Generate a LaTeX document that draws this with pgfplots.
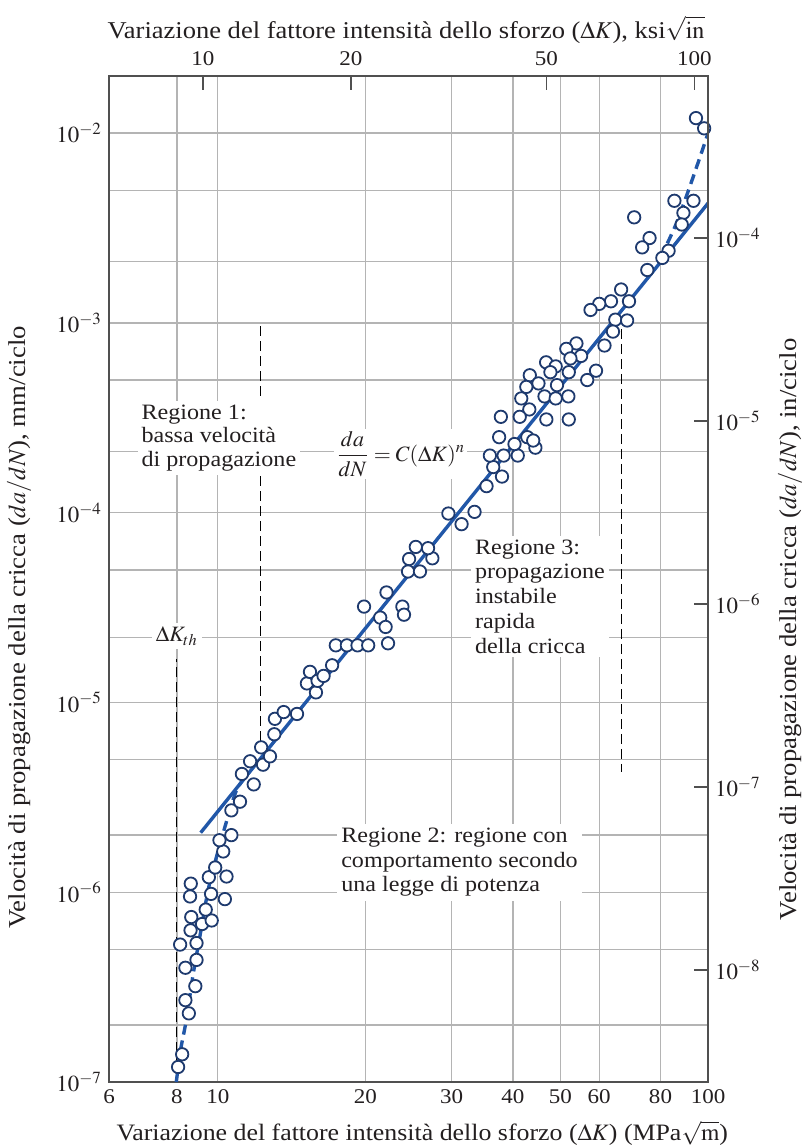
\documentclass[border=0pt]{standalone}
\usepackage{mathptmx}
\usepackage{fontspec}
\setmainfont{Liberation Serif}[FakeStretch=1.1]
\usepackage{pgfplots}
\pgfplotsset{compat=1.18}
\usepackage{pgfplotstable}

\definecolor{gridgray}{HTML}{B4B4B4}
\definecolor{axgray}{HTML}{505050}
\definecolor{linblue}{HTML}{2157A8}
\definecolor{mkblue}{HTML}{1E3A6E}
\definecolor{txt}{HTML}{231F20}

\pgfplotstableread{
x y
8.30 1.2e-7
8.46 1.4e-7
8.73 2.3e-7
8.59 2.7e-7
9.00 3.2e-7
8.59 4.0e-7
9.05 4.4e-7
8.38 5.3e-7
9.05 5.4e-7
8.80 6.3e-7
9.29 6.8e-7
9.72 7.1e-7
8.83 7.4e-7
9.45 8.1e-7
9.69 9.8e-7
10.34 9.2e-7
8.78 9.5e-7
8.81 1.11e-6
9.59 1.2e-6
10.42 1.21e-6
9.88 1.35e-6
10.26 1.64e-6
10.08 1.88e-6
10.66 2.0e-6
10.66 2.7e-6
11.1 3.0e-6
11.84 3.7e-6
11.2 4.2e-6
11.64 4.9e-6
12.37 4.7e-6
12.26 5.8e-6
12.78 5.2e-6
13.04 6.8e-6
13.08 8.2e-6
13.63 8.9e-6
14.51 8.7e-6
15.2 1.26e-5
15.42 1.45e-5
15.86 1.13e-5
15.98 1.3e-5
16.44 1.38e-5
17.11 1.57e-5
17.41 2.0e-5
18.34 2.0e-5
19.28 2.0e-5
20.27 2.0e-5
19.88 3.2e-5
21.45 2.8e-5
22.09 3.8e-5
22.0 2.5e-5
22.25 2.05e-5
23.8 3.2e-5
23.98 2.9e-5
24.44 4.9e-5
25.85 4.9e-5
24.56 5.7e-5
27.4 5.75e-5
25.35 6.6e-5
26.85 6.5e-5
29.54 9.9e-5
31.43 8.7e-5
33.4 1.01e-4
35.34 1.38e-4
36.47 1.74e-4
38.0 1.55e-4
35.9 2.0e-4
38.3 2.0e-4
40.92 2.0e-4
44.45 2.2e-4
94.5 1.2e-2
98.2 1.06e-2
85.4 4.4e-3
93.4 4.4e-3
89.1 3.8e-3
88.4 3.3e-3
70.7 3.6e-3
76.0 2.8e-3
73.4 2.5e-3
83.1 2.4e-3
80.7 2.2e-3
75.2 1.9e-3
66.5 1.5e-3
63.4 1.3e-3
60.0 1.26e-3
57.6 1.17e-3
69.0 1.3e-3
64.7 1.04e-3
68.4 1.03e-3
64.0 9.0e-4
61.5 7.6e-4
53.9 7.8e-4
51.4 7.3e-4
55.1 6.7e-4
52.4 6.5e-4
52.0 5.5e-4
59.1 5.6e-4
56.7 5.0e-4
46.75 6.2e-4
48.9 5.9e-4
47.7 5.5e-4
43.3 5.3e-4
45.1 4.8e-4
42.6 4.6e-4
49.2 4.7e-4
46.4 4.1e-4
48.9 4.0e-4
51.9 4.1e-4
41.6 4.0e-4
43.2 3.5e-4
41.3 3.2e-4
37.8 3.2e-4
46.8 3.1e-4
52.0 3.1e-4
37.5 2.5e-4
42.8 2.5e-4
44.0 2.4e-4
40.3 2.3e-4
}\datatable

\begin{document}
\begin{tikzpicture}
\useasboundingbox (-54.5bp,-33bp) rectangle (347.5bp,541bp);
\begin{axis}[
  at={(0bp,0bp)}, anchor=south west,
  width=299.5bp, height=503bp, scale only axis,
  xmode=log, ymode=log,
  xmin=6, xmax=100, ymin=1e-7, ymax=2e-2,
  xtick={6,8.25,10,20,30,40,50,60,80,100},
  xticklabels={6,8,10,20,30,40,50,60,80,100},
  ytick={1e-7,1e-6,1e-5,1e-4,1e-3,1e-2},
  yticklabels={$10^{-7}$,$10^{-6}$,$10^{-5}$,$10^{-4}$,$10^{-3}$,$10^{-2}$},
  minor ytick={2e-7,5e-7,2e-6,5e-6,2.2e-5,5e-5,2.1e-4,5e-4,2.1e-3,5e-3},
  xmajorgrids=true, ymajorgrids=true, yminorgrids=true, xminorgrids=false,
  major grid style={gridgray, line width=0.7bp},
  minor grid style={gridgray, line width=0.7bp},
  major tick length=0pt, minor tick length=0pt,
  ticklabel pos=lower,
  axis line style={axgray, line width=0.9bp},
  tick label style={text=txt},
  xticklabel style={font=\fontsize{10.5}{12}\selectfont, yshift=-2.5bp, inner sep=1bp},
  yticklabel style={font=\fontsize{11.5}{12}\selectfont},
  every axis x label/.style={at={(axis description cs:0.523,-0.0577)}, anchor=base, font=\fontsize{11.8}{13}\selectfont},
  every axis y label/.style={at={(axis description cs:-0.150,0.452)}, rotate=90, anchor=center, font=\fontsize{12.2}{13}\selectfont},
  label style={text=txt},
  xlabel={Variazione del fattore intensità dello sforzo ($\Delta K$) (MPa$\smash{\sqrt{\mathrm{m}}}$)},
  ylabel={Velocità di propagazione della cricca ($da/dN$), mm/ciclo},
]
% threshold and region boundaries
\addplot[black, line width=0.6bp, dash pattern=on 5bp off 2.5bp, forget plot] coordinates {(8.25,1e-7) (8.25,1.7e-5)};
\addplot[black, line width=0.6bp, dash pattern=on 5bp off 2.5bp, forget plot] coordinates {(12.2,9.6e-4) (12.2,6.2e-6)};
\addplot[black, line width=0.6bp, dash pattern=on 5bp off 2.5bp, forget plot] coordinates {(66.6,9.3e-4) (66.6,4.3e-6)};
% annotations
\node[fill=white, align=left, anchor=north west, inner sep=2bp, text=txt, font=\fontsize{11}{11.75}\selectfont] at (axis cs:6.85,3.9e-4) {Regione 1:\\bassa velocità\\di propagazione};
\node[fill=white, inner sep=2bp, text=txt, font=\fontsize{11}{12}\selectfont] at (axis cs:8.25,2.24e-5) {$\Delta K_{th}$};
\node[fill=white, inner sep=1bp, text=txt, font=\fontsize{11}{12}\selectfont] at (axis cs:23.6,2.04e-4) {$\displaystyle\frac{da}{dN} = C(\Delta K)^n$};
\node[fill=white, align=left, anchor=north west, inner sep=2bp, text=txt, font=\fontsize{11}{12.4}\selectfont] at (axis cs:32.8,7.6e-5) {Regione 3:\\propagazione\\instabile\\rapida\\della cricca};
\node[fill=white, align=left, anchor=north west, inner sep=2bp, text=txt, font=\fontsize{11}{12.4}\selectfont] at (axis cs:17.5,2.3e-6) {Regione 2: regione con\\comportamento secondo\\una legge di potenza};
% fitted power law and transitions
\addplot[linblue, line width=1.7bp, forget plot] coordinates {(9.23,2.06e-6) (100,4.27e-3)};
\addplot[linblue, line width=1.7bp, dash pattern=on 5bp off 3bp, smooth, forget plot] coordinates {(80,2.2e-3) (86,3.3e-3) (91,4.9e-3) (96,7.3e-3) (100,1.0e-2)};
\addplot[linblue, line width=1.7bp, dash pattern=on 5bp off 3bp, smooth, forget plot] coordinates {(8.23,1e-7) (8.4,1.48e-7) (8.62,2.1e-7) (8.91,3.7e-7) (9.21,6.0e-7) (9.56,1.03e-6) (9.97,1.58e-6) (10.49,2.5e-6) (10.95,3.5e-6) (11.59,4.3e-6)};
% data
\addplot[only marks, mark=*, mark size=3.1bp, mark options={draw=mkblue, fill=white, line width=0.9bp}] table {\datatable};
\end{axis}
\begin{axis}[
  at={(0bp,0bp)}, anchor=south west,
  width=299.5bp, height=503bp, scale only axis,
  xmode=log, ymode=log,
  xmin=6.44, xmax=106.6, ymin=2.44e-9, ymax=7.67e-4,
  axis x line*=top, axis y line*=right,
  axis line style={axgray, line width=0.9bp, -},
  xtick={10,20,50,100}, xticklabels={10,20,50,100},
  ytick={1e-8,1e-7,1e-6,1e-5,1e-4},
  yticklabels={$10^{-8}$,$10^{-7}$,$10^{-6}$,$10^{-5}$,$10^{-4}$},
  tick align=inside, major tick length=7bp, minor tick length=0pt,
  major tick style={axgray, line width=0.8bp},
  tick label style={text=txt},
  xticklabel style={font=\fontsize{10.5}{12}\selectfont, yshift=1.5bp},
  yticklabel style={font=\fontsize{11.5}{12}\selectfont},
  every axis x label/.style={at={(axis description cs:0.496,1.0375)}, anchor=base, font=\fontsize{12.1}{13}\selectfont},
  every axis y label/.style={at={(axis description cs:1.137,0.45)}, rotate=90, anchor=center, font=\fontsize{12.2}{13}\selectfont},
  label style={text=txt},
  xlabel={Variazione del fattore intensità dello sforzo ($\Delta K$), ksi$\smash{\sqrt{\mathrm{in}}}$},
  ylabel={Velocità di propagazione della cricca ($da/dN$), in/ciclo},
]
\end{axis}
\end{tikzpicture}
\end{document}
